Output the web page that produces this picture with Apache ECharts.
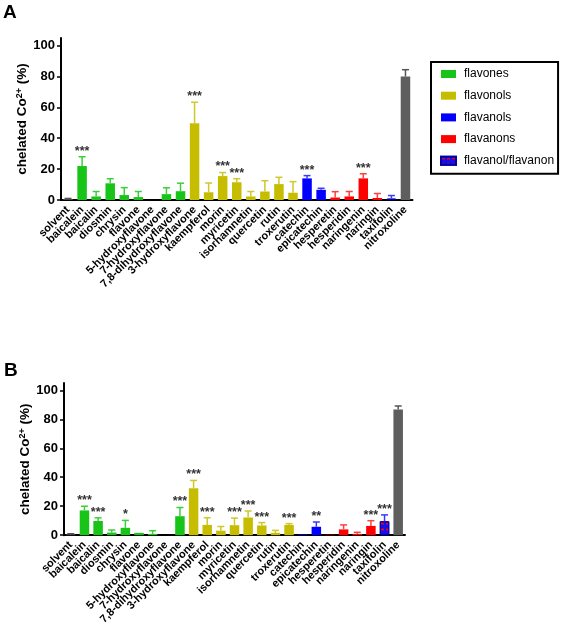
<!DOCTYPE html>
<html><head><meta charset="utf-8">
<script src="https://cdn.jsdelivr.net/npm/echarts@6/dist/echarts.min.js"></script>
<style>html,body{margin:0;padding:0;background:#fff}#c{width:567px;height:627px}</style>
</head><body><div id="c"></div>
<script>
const categories = ['solvent','baicalein','baicalin','diosmin','chrysin','flavone','5-hydroxyflavone','7-hydroxyflavone','7,8-dihydroxyflavone','3-hydroxyflavone','kaempferol','morin','myricetin','isorhamnetin','quercetin','rutin','troxerutin','catechin','epicatechin','hesperetin','hesperidin','naringenin','naringin','taxifolin','nitroxoline'];
// group index of each compound: 0 control, 1 flavones, 2 flavonols, 3 flavanols, 4 flavanons, 5 flavanol/flavanon
const groupOf = [0,1,1,1,1,1,1,1,1,2,2,2,2,2,2,2,2,3,3,4,4,4,4,5,0];
const groupNames = ['control','flavones','flavonols','flavanols','flavanons','flavanol/flavanon'];

// Panel A
const meanA = [0.5, 22, 2.3, 10.8, 3.2, 1.9, 0, 3.8, 5.7, 49.7, 5, 15.5, 11.5, 2.3, 5.5, 10.3, 4.7, 14, 6.6, 1.6, 2.3, 14, 1.3, 0.9, 80];
const sdA   = [0.5, 6, 3.2, 3, 4.8, 3.6, 0, 4.1, 5.2, 13.6, 6, 2.3, 2.3, 3.2, 7, 4.4, 7.2, 1.8, 1, 3.8, 3.2, 3, 2.9, 2, 4.4];
const sigA  = ['', '***', '', '', '', '', '', '', '', '***', '', '***', '***', '', '', '', '', '***', '', '', '', '***', '', '', ''];

// Panel B
const meanB = [0.5, 17.1, 9.8, 1.8, 5.1, 1.6, 0.9, 0, 13.1, 32.4, 7.1, 3.1, 6.9, 12.2, 6.7, 1.6, 7.1, 0.5, 5.8, 0.3, 4, 0.9, 6.4, 9.6, 86.8];
const sdB   = [0.5, 2.9, 2.2, 1.8, 5.1, 0, 2.2, 0, 6, 5.4, 4.9, 2.9, 4.9, 4.5, 2, 1.7, 0.9, 0, 3.3, 0, 3.1, 1.1, 3.6, 4.4, 2.4];
const sigB  = ['', '***', '***', '', '*', '', '', '', '***', '***', '***', '', '***', '***', '***', '', '***', '', '**', '', '', '', '***', '***', ''];

const yTicks = [0, 20, 40, 60, 80, 100];

const colors = ['#5e5e5e', '#17c417', '#c6bd00', '#0000ff', '#ff0000', '#1010ee'];
const errColors = ['#555555', '#3ccf3c', '#cfc82a', '#3a3aff', '#ff4040', '#3a3aff'];
const FONT = 'Liberation Sans, Arial, sans-serif';

function makeAxes(gi, left, width, top, height) {
  return {
    grid: {left: left, top: top, width: width, height: height},
    x: {
      type: 'category', gridIndex: gi, data: categories,
      axisLine: {lineStyle: {color: '#000', width: 2}},
      axisTick: {alignWithLabel: true, length: 5, lineStyle: {color: '#000', width: 1.5}},
      axisLabel: {rotate: 45, interval: 0, fontFamily: FONT, fontWeight: 'bold', fontSize: 11, color: '#000', margin: 8}
    },
    y: {
      type: 'value', gridIndex: gi, min: 0, max: 105, interval: 20,
      axisLine: {show: true, lineStyle: {color: '#000', width: 2}},
      axisTick: {show: true, length: 4, lineStyle: {color: '#000', width: 1.5}},
      splitLine: {show: false},
      axisLabel: {showMaxLabel: false, fontFamily: FONT, fontWeight: 'bold', fontSize: 13, color: '#000', margin: 6,
        formatter: v => yTicks.indexOf(v) >= 0 ? String(v) : ''},
      name: '{a|chelated Co}{s|2+}{a| (%)}',
      nameLocation: 'middle', nameGap: 31, nameRotate: 90, nameMoveOverlap: false,
      nameTextStyle: {rich: {
        a: {fontFamily: FONT, fontWeight: 'bold', fontSize: 13.5, color: '#000'},
        s: {fontFamily: FONT, fontWeight: 'bold', fontSize: 9, color: '#000', verticalAlign: 'top', padding: [0, 0, 6, 0]}
      }}
    }
  };
}

function makeSeries(gi, mean, sd, sig) {
  const out = [];
  for (let g = 0; g < groupNames.length; g++) {
    const s = {
      type: 'bar', name: groupNames[g], xAxisIndex: gi, yAxisIndex: gi,
      barWidth: 9.5, barGap: '-100%',
      data: mean.map((v, i) => groupOf[i] === g ? v : '-'),
      itemStyle: {color: colors[g]}
    };
    if (g === 5) {
      s.itemStyle = {color: colors[g], borderColor: '#0000aa', borderWidth: 1,
        decal: {symbol: 'rect', color: '#ff0000', dashArrayX: [5, 0], dashArrayY: [3, 3], symbolSize: 0.6, rotation: 0}};
    }
    out.push(s);
  }
  out.push({
    type: 'custom', xAxisIndex: gi, yAxisIndex: gi, z: 5,
    data: mean.map((v, i) => [i, v, sd[i]]),
    renderItem: function (params, api) {
      const i = api.value(0), m = api.value(1), e = api.value(2);
      if (!(e > 0)) return null;
      const p0 = api.coord([i, m]), p1 = api.coord([i, m + e]);
      const st = {stroke: errColors[groupOf[i]], lineWidth: 1.5};
      return {type: 'group', children: [
        {type: 'line', shape: {x1: p0[0], y1: p0[1], x2: p1[0], y2: p1[1]}, style: st},
        {type: 'line', shape: {x1: p1[0] - 3.5, y1: p1[1], x2: p1[0] + 3.5, y2: p1[1]}, style: st}
      ]};
    }
  });
  out.push({
    type: 'custom', xAxisIndex: gi, yAxisIndex: gi, z: 6,
    data: mean.map((v, i) => [i, v + sd[i], sig[i]]),
    renderItem: function (params, api) {
      const i = api.value(0), top = api.value(1);
      const txt = sig[i];
      if (!txt) return null;
      const p = api.coord([i, top]);
      return {type: 'text', x: p[0], y: p[1] + 1, style: {text: txt, fill: '#333', font: 'bold 12.5px ' + FONT, textAlign: 'center', textVerticalAlign: 'bottom'}};
    }
  });
  return out;
}

const A = makeAxes(0, 61, 351.5, 37.9, 162.1);
const B = makeAxes(1, 64, 341, 383.1, 158.9);

const option = {
  animation: false,
  aria: {enabled: false},
  grid: [A.grid, B.grid],
  xAxis: [A.x, B.x],
  yAxis: [A.y, B.y],
  legend: {
    orient: 'vertical', left: 431, top: 62,
    data: groupNames.slice(1),
    borderColor: '#000', borderWidth: 2, padding: [5, 4, 6, 9],
    itemWidth: 15, itemHeight: 8, itemGap: 7.7, icon: 'rect',
    textStyle: {fontFamily: FONT, fontSize: 12, color: '#000', lineHeight: 14, padding: [0, 0, 0, 3]}
  },
  graphic: [
    {type: 'text', left: 3, top: 3, style: {text: 'A', font: 'bold 19px ' + FONT, fill: '#000'}},
    {type: 'text', left: 4, top: 361, style: {text: 'B', font: 'bold 19px ' + FONT, fill: '#000'}}
  ],
  series: makeSeries(0, meanA, sdA, sigA).concat(makeSeries(1, meanB, sdB, sigB))
};

const chart = echarts.init(document.getElementById('c'), null, {renderer: 'canvas'});
chart.setOption(option);
</script>
</body></html>
